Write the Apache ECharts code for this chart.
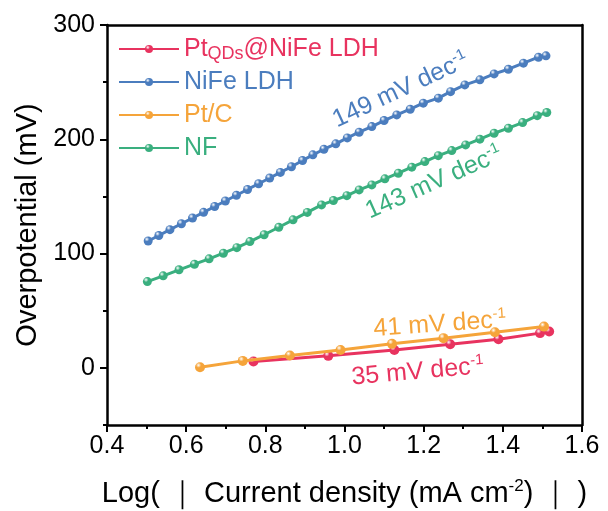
<!DOCTYPE html>
<html><head><meta charset="utf-8">
<script src="https://cdn.jsdelivr.net/npm/echarts@6/dist/echarts.min.js"></script>
<style>html,body{margin:0;padding:0;background:#fff}#c{width:608px;height:511px}</style>
</head><body><div id="c"></div>
<script>
// ---- data ----
const seriesNames = ['PtQDs@NiFe LDH', 'NiFe LDH', 'Pt/C', 'NF'];
const ptqdsX = [0.770, 0.959, 1.126, 1.267, 1.389, 1.494, 1.517];
const ptqdsY = [5.5, 10.5, 15.7, 20.7, 25.1, 30.4, 31.8];
const nifeX = [0.504,0.531,0.559,0.588,0.616,0.644,0.672,0.699,0.727,0.755,0.783,0.811,0.838,0.866,0.894,0.920,0.948,0.978,1.007,1.037,1.069,1.100,1.132,1.166,1.199,1.237,1.268,1.304,1.342,1.378,1.414,1.452,1.490,1.509];
const nifeY = [111.0,115.8,120.9,126.1,131.1,136.1,141.2,146.0,151.0,156.1,161.1,166.1,171.0,176.0,181.4,186.4,191.3,196.0,201.2,206.2,211.1,216.4,221.3,226.3,231.6,236.0,241.7,247.6,252.0,257.2,261.3,266.6,271.8,273.0];
const ptcX = [0.635, 0.743, 0.862, 0.990, 1.120, 1.250, 1.380, 1.504];
const ptcY = [0.6, 6.1, 10.8, 15.7, 21.0, 26.0, 31.2, 36.1];
const nfX = [0.502,0.542,0.582,0.621,0.658,0.694,0.728,0.761,0.797,0.834,0.870,0.906,0.942,0.972,1.006,1.037,1.069,1.102,1.136,1.170,1.203,1.237,1.271,1.306,1.342,1.378,1.414,1.450,1.487,1.511];
const nfY = [75.5,80.5,85.8,90.7,95.4,100.3,105.2,110.5,116.5,123.0,129.5,136.0,142.6,146.4,150.7,155.7,160.1,165.4,170.3,175.6,180.5,185.7,190.1,195.1,200.1,205.3,209.7,214.6,220.7,223.4];
const yTicks = [0, 100, 200, 300];
const yMinorTicks = [-50, 50, 150, 250];
const slopeLabels = [
  {text: '149 mV dec', x: 1.142, y: 243, rot: 25, color: 0},
  {text: '143 mV dec', x: 1.226, y: 162, rot: 24, color: 3},
  {text: '41 mV dec',  x: 1.241, y: 38, rot: 4, color: 2},
  {text: '35 mV dec',  x: 1.185, y: -3.5, rot: 5, color: 1}
];
// ---- style ----
const colors = ['#E8335F', '#4B7DBE', '#F5A43A', '#3AAF7F'];
const slopeColors = ['#4B7DBE', '#E8335F', '#F5A43A', '#3AAF7F'];
const FONT = '"Liberation Sans", Arial, sans-serif';
function ball(c) {
  return {type: 'radial', x: 0.35, y: 0.3, r: 0.75,
    colorStops: [{offset: 0, color: '#ffffff'}, {offset: 0.35, color: c}, {offset: 1, color: c}]};
}
function pairs(xs, ys) { return xs.map((x, i) => [x, ys[i]]); }
const dataSets = [pairs(ptqdsX, ptqdsY), pairs(nifeX, nifeY), pairs(ptcX, ptcY), pairs(nfX, nfY)];
const sizes = [10, 9, 10, 9];

const chart = echarts.init(document.getElementById('c'), null, {renderer: 'canvas'});
const option = {
  animation: false,
  backgroundColor: '#fff',
  textStyle: {fontFamily: FONT},
  grid: {left: 107, right: 26, top: 25, bottom: 86, containLabel: false, outerBoundsMode: 'none'},
  legend: {
    orient: 'vertical', left: 113, top: 30, itemWidth: 60, itemHeight: 10, itemGap: 5,
    textStyle: {fontSize: 25, fontFamily: FONT, lineHeight: 28,
      rich: {n: {fontSize: 25, lineHeight: 28, fontFamily: FONT},
             sub: {fontSize: 18, lineHeight: 6, verticalAlign: 'bottom', fontFamily: FONT}}},
    formatter: function (name) {
      if (name === 'PtQDs@NiFe LDH') return '{n|Pt}{sub|QDs}{n|@NiFe LDH}';
      return name;
    },
    data: seriesNames.map((n, i) => ({name: n, textStyle: {color: colors[i]}}))
  },
  xAxis: [{
    type: 'value', min: 0.4, max: 1.6, interval: 0.2,
    name: 'Log( ｜ Current density (mA cm{s|-2}) ｜ )',
    nameLocation: 'middle', nameGap: 53,
    nameTextStyle: {fontSize: 29, color: '#000', fontFamily: FONT, lineHeight: 32,
      rich: {s: {fontSize: 17, lineHeight: 32, verticalAlign: 'top', fontFamily: FONT, color: '#000'}}},
    axisLine: {onZero: false, lineStyle: {color: '#000', width: 2.5}},
    axisTick: {inside: false, length: 7, lineStyle: {color: '#000', width: 2}},
    minorTick: {show: true, splitNumber: 2, length: 4, lineStyle: {color: '#000', width: 2}},
    axisLabel: {fontSize: 25, color: '#000', margin: 9, fontFamily: FONT, formatter: v => v.toFixed(1)},
    splitLine: {show: false}
  }, {
    type: 'value', position: 'top', min: 0.4, max: 1.6,
    axisLine: {onZero: false, lineStyle: {color: '#000', width: 2.5}},
    axisTick: {show: false}, axisLabel: {show: false}, splitLine: {show: false}
  }],
  yAxis: [{
    type: 'value', min: -50, max: 300, interval: 50,
    name: 'Overpotential (mV)', nameLocation: 'middle', nameGap: 62,
    nameTextStyle: {fontSize: 29, color: '#000', fontFamily: FONT},
    axisLine: {onZero: false, lineStyle: {color: '#000', width: 2.5}},
    axisTick: {length: 7, customValues: yTicks, lineStyle: {color: '#000', width: 2}},
    axisLabel: {fontSize: 25, color: '#000', margin: 12, fontFamily: FONT, customValues: yTicks},
    splitLine: {show: false}
  }, {
    type: 'value', min: -50, max: 300, interval: 50, position: 'left',
    axisLine: {show: false},
    axisTick: {length: 4, customValues: yMinorTicks, lineStyle: {color: '#000', width: 2}},
    axisLabel: {show: false}, splitLine: {show: false}
  }, {
    type: 'value', position: 'right', min: -50, max: 300,
    axisLine: {onZero: false, lineStyle: {color: '#000', width: 2.5}},
    axisTick: {show: false}, axisLabel: {show: false}, splitLine: {show: false}
  }],
  series: seriesNames.map((n, i) => ({
    name: n, type: 'line', data: dataSets[i], xAxisIndex: 0, yAxisIndex: 0,
    symbol: 'circle', symbolSize: sizes[i], showSymbol: true,
    lineStyle: {color: colors[i], width: 3},
    itemStyle: {color: ball(colors[i]), borderWidth: 0},
    z: 2 + i
  }))
};
chart.setOption(option);

const graphics = slopeLabels.map(s => {
  const p = chart.convertToPixel({xAxisIndex: 0, yAxisIndex: 0}, [s.x, s.y]);
  const c = slopeColors[s.color];
  return {
    type: 'text', x: p[0], y: p[1], rotation: s.rot * Math.PI / 180, z: 20,
    style: {
      text: '{n|' + s.text + '}{s|-1}', align: 'center', verticalAlign: 'middle', fill: c,
      rich: {n: {fontSize: 25, lineHeight: 28, fontFamily: FONT, fill: c},
             s: {fontSize: 15, lineHeight: 28, verticalAlign: 'top', fontFamily: FONT, fill: c}}
    }
  };
});
chart.setOption({graphic: graphics});
</script></body></html>
